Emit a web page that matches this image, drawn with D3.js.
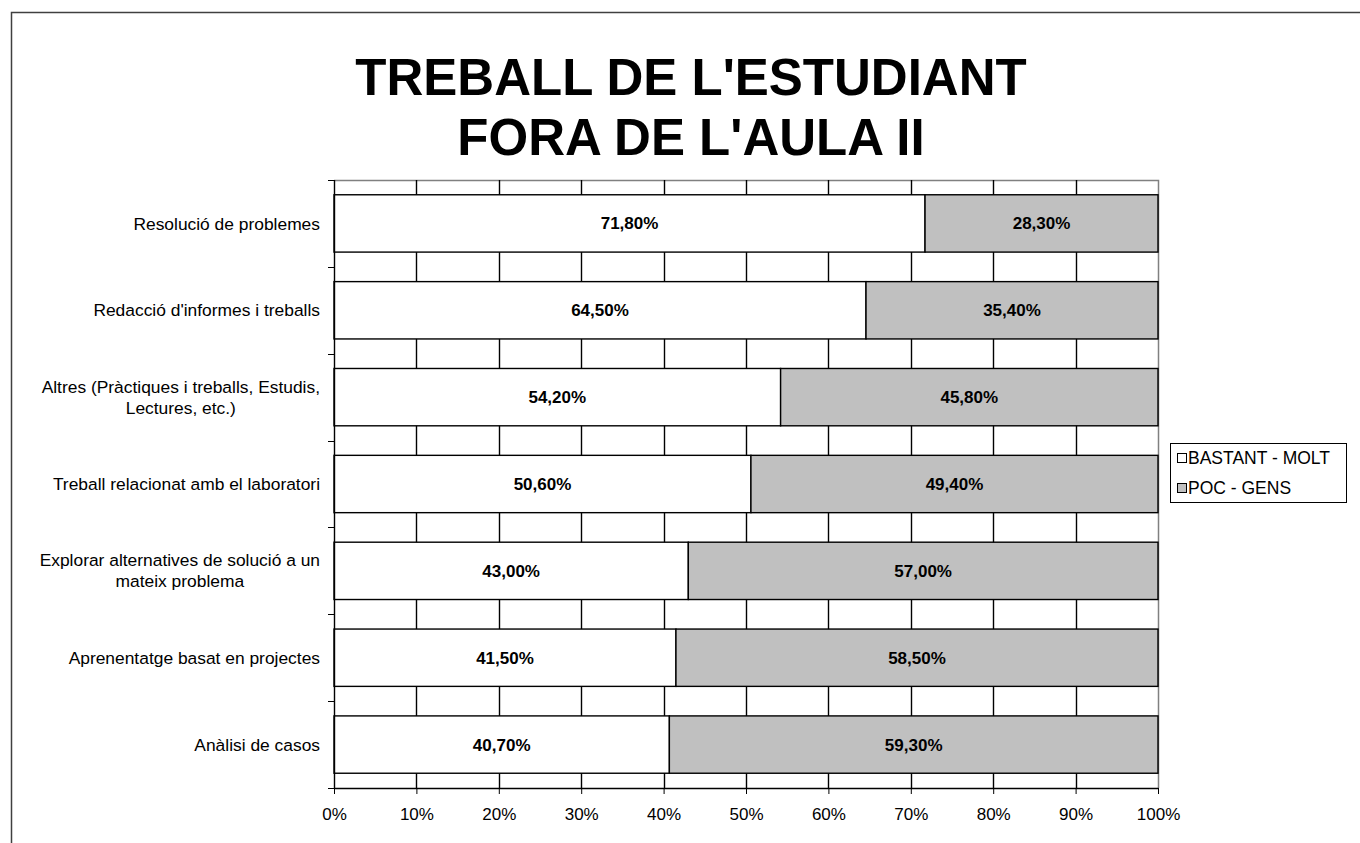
<!DOCTYPE html>
<html>
<head>
<meta charset="utf-8">
<script src="https://cdn.jsdelivr.net/npm/d3@7"></script>
<style>
  body { margin: 0; background: #fff; }
  svg { display: block; font-family: Arial, "Liberation Sans", sans-serif; }
</style>
</head>
<body>
<svg id="chart" width="1360" height="843"></svg>
<script>
const titleLines = ["TREBALL DE L'ESTUDIANT", "FORA DE L'AULA II"];
const categories = [
  ["Resolució de problemes"],
  ["Redacció d'informes i treballs"],
  ["Altres (Pràctiques i treballs, Estudis,", "Lectures, etc.)"],
  ["Treball relacionat amb el laboratori"],
  ["Explorar alternatives de solució a un", "mateix problema"],
  ["Aprenentatge basat en projectes"],
  ["Anàlisi de casos"]
];
const seriesNames = ["BASTANT - MOLT", "POC - GENS"];
const bastantMolt = [71.8, 64.5, 54.2, 50.6, 43.0, 41.5, 40.7];
const pocGens = [28.3, 35.4, 45.8, 49.4, 57.0, 58.5, 59.3];
const xTicks = [0, 10, 20, 30, 40, 50, 60, 70, 80, 90, 100];
const colors = ["#ffffff", "#c0c0c0"];

const plotLeft = 334, plotRight = 1158, plotTop = 180, plotBottom = 788;

const svg = d3.select("#chart");

// outer frame (runs off the page on the right and bottom)
svg.append("rect")
  .attr("x", 11.5).attr("y", 12.5)
  .attr("width", 1400).attr("height", 900)
  .attr("fill", "none").attr("stroke", "#404040").attr("stroke-width", 1.5);

// title
svg.append("g").selectAll("text")
  .data(titleLines)
  .enter().append("text")
  .attr("x", 691)
  .attr("y", (d, i) => 95 + i * 60)
  .attr("text-anchor", "middle")
  .attr("font-size", 51)
  .attr("font-weight", "bold")
  .text(d => d);

const x = d3.scaleLinear().domain([0, 100]).range([plotLeft, plotRight]);
const y = d3.scaleBand()
  .domain(d3.range(categories.length))
  .range([plotTop, plotBottom])
  .paddingInner(0.34)
  .paddingOuter(0.17);

// plot area border (grey top & right)
svg.append("path")
  .attr("d", `M${plotLeft},${plotTop + 0.5}H${plotRight + 0.5}V${plotBottom}`)
  .attr("fill", "none").attr("stroke", "#808080").attr("stroke-width", 1.5);

// vertical gridlines
svg.append("g").selectAll("line")
  .data(xTicks.slice(1, -1))
  .enter().append("line")
  .attr("x1", d => Math.round(x(d)) + 0.5).attr("x2", d => Math.round(x(d)) + 0.5)
  .attr("y1", plotTop).attr("y2", plotBottom)
  .attr("stroke", "#000").attr("stroke-width", 1.4);

// bars
const rows = categories.map((c, i) => {
  const total = bastantMolt[i] + pocGens[i];
  return [
    { i, s: 0, v: bastantMolt[i], x0: 0, x1: bastantMolt[i] / total * 100 },
    { i, s: 1, v: pocGens[i], x0: bastantMolt[i] / total * 100, x1: 100 }
  ];
}).flat();

const bars = svg.append("g");
bars.selectAll("rect")
  .data(rows)
  .enter().append("rect")
  .attr("x", d => x(d.x0))
  .attr("y", d => y(d.i))
  .attr("width", d => x(d.x1) - x(d.x0))
  .attr("height", y.bandwidth())
  .attr("fill", d => colors[d.s])
  .attr("stroke", "#000")
  .attr("stroke-width", 1.4);

bars.selectAll("text")
  .data(rows)
  .enter().append("text")
  .attr("x", d => (x(d.x0) + x(d.x1)) / 2)
  .attr("y", d => y(d.i) + y.bandwidth() / 2)
  .attr("dy", "0.35em")
  .attr("text-anchor", "middle")
  .attr("font-size", 17)
  .attr("font-weight", "bold")
  .text(d => d.v.toFixed(2).replace(".", ",") + "%");

// left axis
const yEdges = d3.range(categories.length + 1).map(i => plotTop + i * y.step());
svg.append("line")
  .attr("x1", plotLeft + 0.5).attr("x2", plotLeft + 0.5)
  .attr("y1", plotTop).attr("y2", plotBottom)
  .attr("stroke", "#000").attr("stroke-width", 1.4);
svg.append("g").selectAll("line")
  .data(yEdges)
  .enter().append("line")
  .attr("x1", plotLeft - 6).attr("x2", plotLeft)
  .attr("y1", d => Math.round(d) + 0.5).attr("y2", d => Math.round(d) + 0.5)
  .attr("stroke", "#000");

// category labels
const catG = svg.append("g");
categories.forEach((lines, i) => {
  const cy = y(i) + y.bandwidth() / 2;
  const lh = 21;
  const t = catG.append("text")
    .attr("font-size", 17.4)
    .attr("text-anchor", "middle");
  lines.forEach((l, k) => {
    t.append("tspan")
      .attr("y", cy + (k - (lines.length - 1) / 2) * lh)
      .attr("dy", "0.35em")
      .text(l);
  });
  const w = d3.max(t.selectAll("tspan").nodes(), n => n.getComputedTextLength());
  t.selectAll("tspan").attr("x", 320 - w / 2);
});

// bottom axis
const xAxis = d3.axisBottom(x)
  .tickValues(xTicks)
  .tickFormat(d => d + "%")
  .tickSize(6)
  .tickPadding(14)
  .tickSizeOuter(0);
const xg = svg.append("g")
  .attr("transform", `translate(0,${plotBottom})`)
  .call(xAxis);
xg.select(".domain").attr("stroke", "#000").attr("stroke-width", 1.4);
xg.selectAll(".tick line").attr("stroke", "#000");
xg.selectAll(".tick text")
  .attr("font-size", 17)
  .attr("font-family", "Arial, 'Liberation Sans', sans-serif")
  .attr("fill", "#000");

// legend
const lg = svg.append("g");
lg.append("rect")
  .attr("x", 1170.5).attr("y", 443.5)
  .attr("width", 176).attr("height", 59)
  .attr("fill", "#fff").attr("stroke", "#000");
seriesNames.forEach((name, i) => {
  const cy = 458 + i * 30;
  lg.append("rect")
    .attr("x", 1177.5).attr("y", cy - 4.5)
    .attr("width", 9).attr("height", 9)
    .attr("fill", colors[i]).attr("stroke", "#000");
  lg.append("text")
    .attr("x", 1188).attr("y", cy)
    .attr("dy", "0.35em")
    .attr("font-size", 17.5)
    .text(name);
});
</script>
</body>
</html>
